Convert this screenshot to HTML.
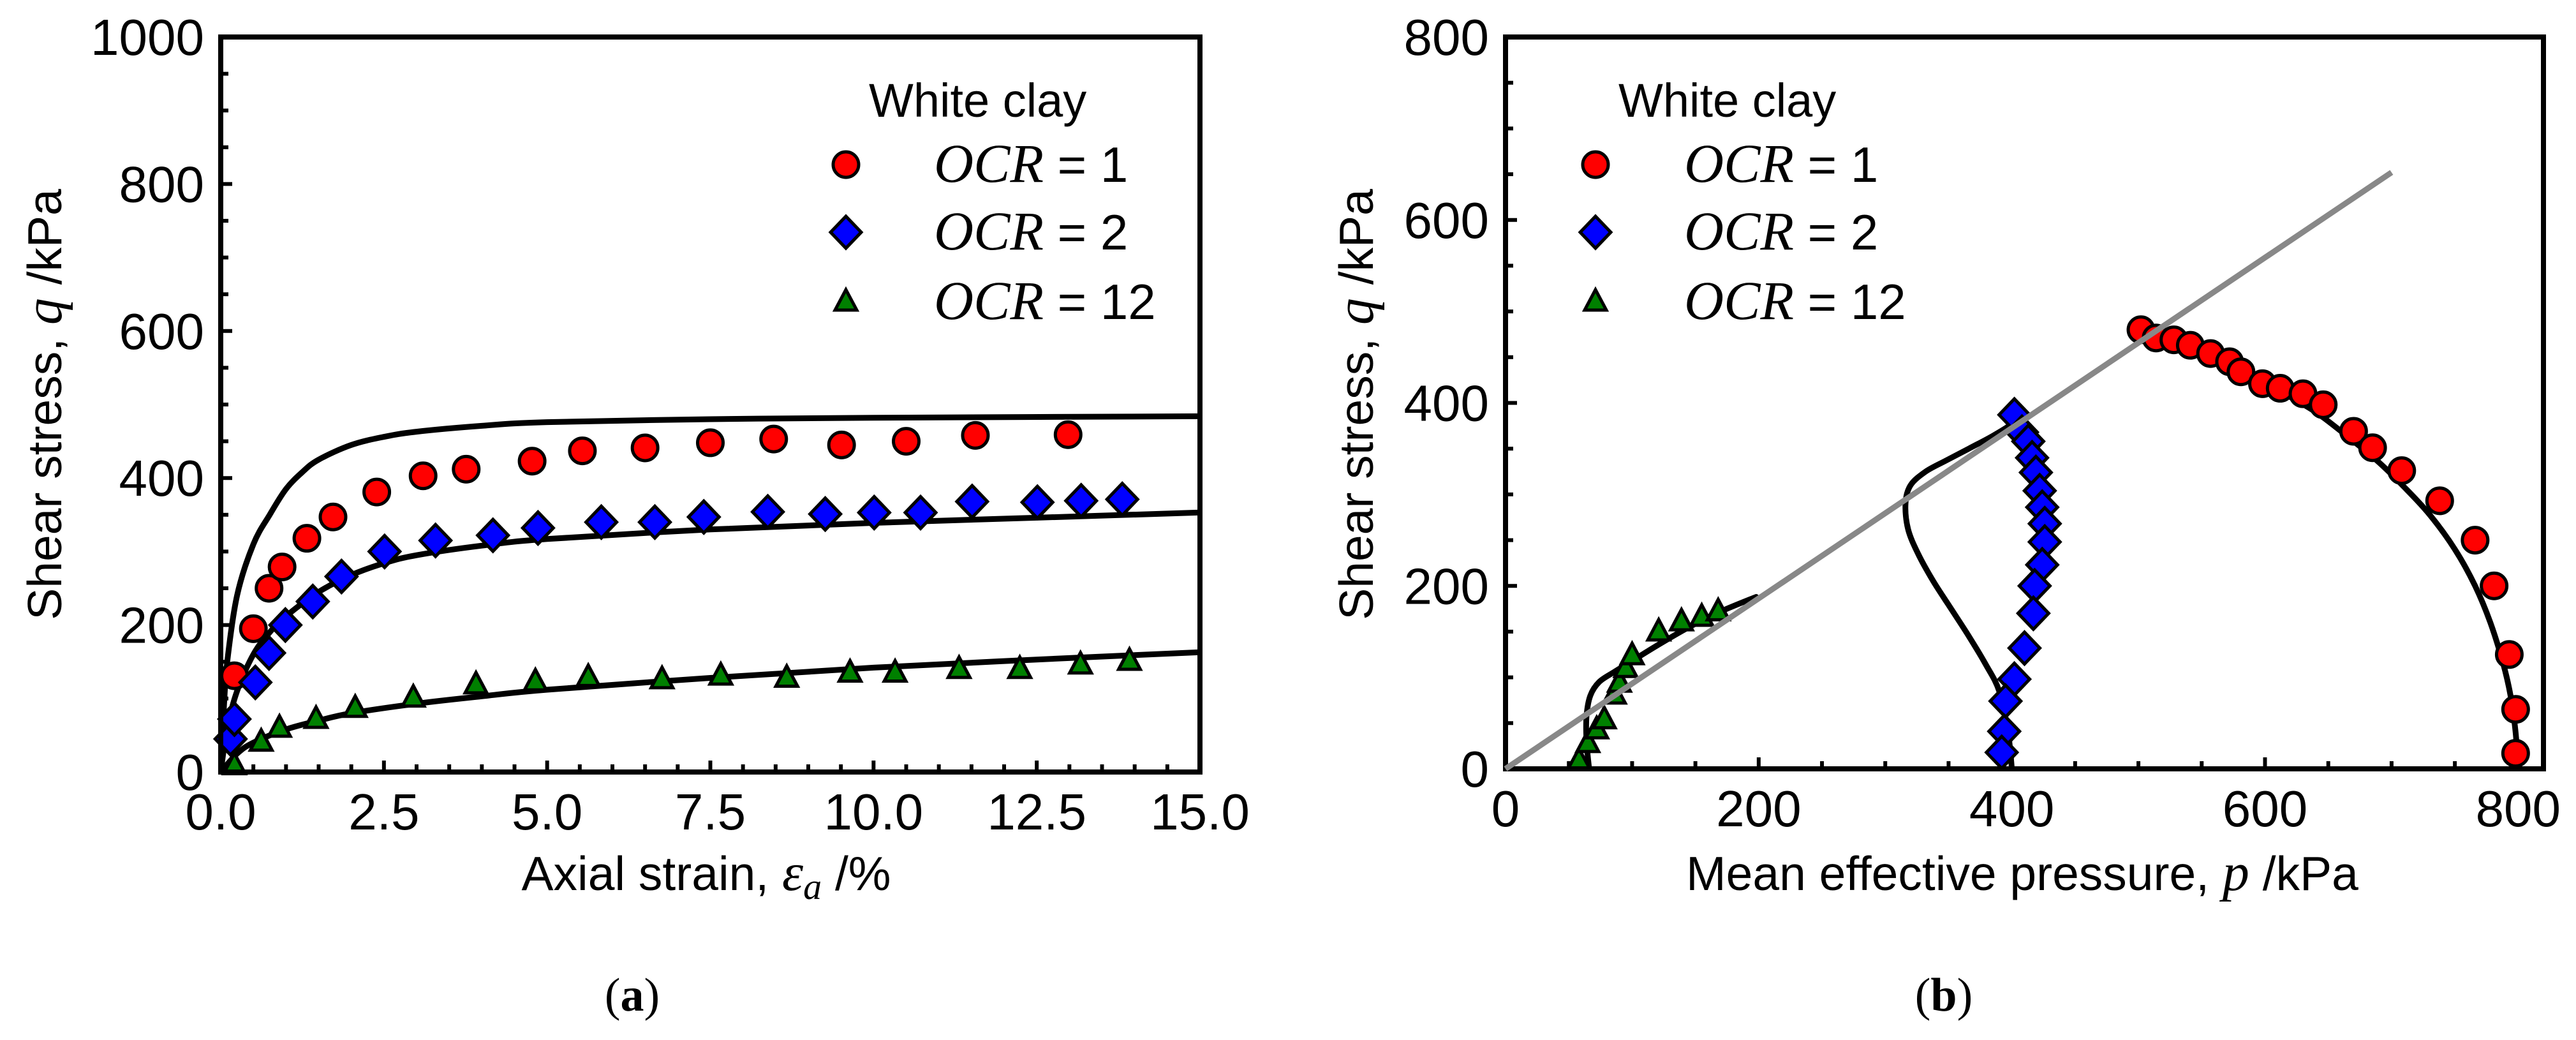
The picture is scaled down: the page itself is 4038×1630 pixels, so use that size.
<!DOCTYPE html>
<html><head><meta charset="utf-8"><style>
html,body{margin:0;padding:0;background:#fff;}
svg{display:block;}
text{fill:#000;}
</style></head><body>
<svg id="fig" width="4038" height="1630" xmlns="http://www.w3.org/2000/svg" font-family="Liberation Sans, sans-serif"></svg>
<script>
// ---- Panel (a) data ----
const a_ocr1_eps=[0.21,0.5,0.74,0.94,1.32,1.72,2.39,3.1,3.76,4.77,5.54,6.5,7.5,8.47,9.51,10.5,11.56,12.98];
const a_ocr1_q=[131,195,250,279,318,347,381,403,412,423,437,441,448,453,445,450,458,459];
const a_ocr2_eps=[0.15,0.21,0.53,0.74,0.99,1.41,1.85,2.51,3.29,4.17,4.86,5.83,6.65,7.4,8.38,9.26,10.01,10.72,11.51,12.51,13.18,13.81];
const a_ocr2_q=[45,72,122,162,200,232,266,300,315,322,332,340,340,347,354,351,353,353,368,367,369,371];
const a_ocr12_eps=[0.21,0.62,0.9,1.46,2.06,2.95,3.91,4.82,5.63,6.76,7.66,8.67,9.64,10.33,11.31,12.24,13.17,13.92];
const a_ocr12_q=[9,41,60,72,87,101,119,123,129,126,131,128,135,135,140,140,146,151];
const a_fit1_eps=[0,0.05,0.1,0.25,0.5,0.75,1,1.25,1.5,2,2.5,3,4,5,7.5,10,15];
const a_fit1_q=[0,90,150,240,310,350,385,408,425,445,456,463,471,476,480,482,484];
const a_fit2_eps=[0,0.1,0.25,0.5,0.75,1,1.5,2,2.5,3,4,5,7.5,10,12.5,15];
const a_fit2_q=[0,60,110,160,190,212,245,268,284,295,308,317,330,339,346,353];
const a_fit12_eps=[0,0.25,0.5,1,1.5,2,3,4,5,7.5,10,12.5,15];
const a_fit12_q=[0,25,40,58,70,80,93,103,112,128,142,153,163];
const a_xticks=["0.0","2.5","5.0","7.5","10.0","12.5","15.0"];
const a_yticks=["0","200","400","600","800","1000"];
// ---- Panel (b) data ----
const b_ocr1_p=[502,514,528,541,557,572,581,598,612,630,646,670,685,708,738,766,781,793,798,798];
const b_ocr1_q=[480,471,469,463,454,445,434,421,416,410,398,369,351,326,293,250,200,125,65,17];
const b_ocr2_p=[402,408,413,416,419,422,424,426,426,424,418,417,410,402,395,394,392];
const b_ocr2_q=[387,368,358,340,324,304,286,268,248,223,200,170,132,98,74,41,18];
const b_ocr12_p=[58,65,72,78,86,90,95,100,121,139,155,168];
const b_ocr12_q=[9,28,43,54,81,94,110,124,150,161,166,172];
const b_fit1_p=[800,798,794,788,778,766,750,730,710,690,670,640,610,580,550,520,505];
const b_fit1_q=[0,40,80,116,160,200,240,278,308,335,358,390,414,435,456,474,480];
const b_fit2_p=[400,397,390,379,366,352,338,326,318,316,320,332,348,366,385,400,407];
const b_fit2_q=[0,40,85,115,145,175,205,235,262,290,310,325,337,350,364,377,387];
const b_fit12_p=[66,64,64,67,74,86,100,120,145,170,198];
const b_fit12_q=[0,30,58,80,95,106,118,135,155,172,188];
const b_csl_p=[0,700];
const b_csl_q=[0,652];
const b_xticks=["0","200","400","600","800"];
const b_yticks=["0","200","400","600","800"];

const NS="http://www.w3.org/2000/svg";
const svg=document.getElementById('fig');
function mk(tag,attrs,parent){const e=document.createElementNS(NS,tag);for(const k in attrs)e.setAttribute(k,attrs[k]);(parent||svg).appendChild(e);return e;}
function smooth(pts){let d='M'+pts[0][0].toFixed(1)+','+pts[0][1].toFixed(1);
  for(let i=0;i<pts.length-1;i++){const p0=pts[Math.max(0,i-1)],p1=pts[i],p2=pts[i+1],p3=pts[Math.min(pts.length-1,i+2)];
    const c1=[p1[0]+(p2[0]-p0[0])/6,p1[1]+(p2[1]-p0[1])/6],c2=[p2[0]-(p3[0]-p1[0])/6,p2[1]-(p3[1]-p1[1])/6];
    d+=' C'+c1.map(v=>v.toFixed(1)).join(',')+' '+c2.map(v=>v.toFixed(1)).join(',')+' '+p2.map(v=>v.toFixed(1)).join(',');}
  return d;}

function panel(o){
  const g=mk('g',{});
  
  
  const X=v=>o.x0+(v-o.xmin)/(o.xmax-o.xmin)*(o.x1-o.x0);
  const Y=v=>o.y0-(v-o.ymin)/(o.ymax-o.ymin)*(o.y0-o.y1);
  const cid='clip'+o.id;
  const cp=mk('clipPath',{id:cid},g);mk('rect',{x:o.x0,y:o.y1,width:o.x1-o.x0,height:o.y0-o.y1},cp);
  for(let v=o.xmin;v<=o.xmax+1e-9;v+=o.xminor){const x=X(v);const isMaj=Math.abs(((v-o.xmin)/o.xmajor)-Math.round((v-o.xmin)/o.xmajor))<1e-6;const L=isMaj?18:12;
    mk('line',{x1:x,y1:o.y0,x2:x,y2:o.y0-L,stroke:'#000','stroke-width':6},g);}
  for(let v=o.ymin;v<=o.ymax+1e-9;v+=o.yminor){const y=Y(v);const isMaj=Math.abs(((v-o.ymin)/o.ymajor)-Math.round((v-o.ymin)/o.ymajor))<1e-6;const L=isMaj?18:12;
    mk('line',{x1:o.x0,y1:y,x2:o.x0+L,y2:y,stroke:'#000','stroke-width':6},g);}
  o.xt.forEach(t=>{const tx=mk('text',{x:X(parseFloat(t)),y:o.y0+90,'font-size':80,'text-anchor':'middle'},g);tx.textContent=t;
    
    });
  o.yt.forEach(t=>{const tx=mk('text',{x:o.x0-26,y:Y(parseFloat(t))+28,'font-size':80,'text-anchor':'end'},g);tx.textContent=t;
    
    });
  const body=mk('g',{'clip-path':'url(#'+cid+')'},g);
  o.lines.forEach(l=>{const pts=l.xs.map((v,i)=>[X(v),Y(l.ys[i])]);
    const pl=mk('path',{d:smooth(pts),fill:'none',stroke:l.c,'stroke-width':l.w,'stroke-linejoin':'round','stroke-linecap':'round'},body);
    
    });
  o.series.forEach(s=>{s.xs.forEach((v,i)=>{const m=marker(s.shape,X(v),Y(s.ys[i]),g);
    
    });});
  const fr=mk('rect',{x:o.x0,y:o.y1,width:o.x1-o.x0,height:o.y0-o.y1,fill:'none',stroke:'#000','stroke-width':8},g);
  
  
  return g;
}
function marker(shape,x,y,p){
  if(shape==='c')return mk('circle',{cx:x,cy:y,r:20,fill:'#ff0000',stroke:'#000','stroke-width':5},p);
  if(shape==='d')return mk('polygon',{points:`${x},${y-25} ${x+24},${y} ${x},${y+25} ${x-24},${y}`,fill:'#0000ff',stroke:'#000','stroke-width':5},p);
  return mk('polygon',{points:`${x},${y-19} ${x+17},${y+13} ${x-17},${y+13}`,fill:'#008000',stroke:'#000','stroke-width':5},p);
}

panel({id:'a',name:'panel-a-chart',x0:346,x1:1881,y0:1210,y1:58,xmin:0,xmax:15,ymin:0,ymax:1000,xminor:0.5,xmajor:2.5,yminor:50,ymajor:200,
  xt:a_xticks,yt:a_yticks,
  lines:[{xs:a_fit1_eps,ys:a_fit1_q,c:'#000',w:9,name:'fit-ocr1'},{xs:a_fit2_eps,ys:a_fit2_q,c:'#000',w:9,name:'fit-ocr2'},{xs:a_fit12_eps,ys:a_fit12_q,c:'#000',w:9,name:'fit-ocr12'}],
  series:[{shape:'c',xs:a_ocr1_eps,ys:a_ocr1_q,name:'ocr1'},{shape:'d',xs:a_ocr2_eps,ys:a_ocr2_q,name:'ocr2'},{shape:'t',xs:a_ocr12_eps,ys:a_ocr12_q,name:'ocr12'}]});
panel({id:'b',name:'panel-b-chart',x0:2360,x1:3987,y0:1205,y1:58,xmin:0,xmax:820,ymin:0,ymax:800,xminor:50,xmajor:200,yminor:50,ymajor:200,
  xt:b_xticks,yt:b_yticks,
  lines:[{xs:b_fit1_p,ys:b_fit1_q,c:'#000',w:9,name:'fit-ocr1'},{xs:b_fit2_p,ys:b_fit2_q,c:'#000',w:9,name:'fit-ocr2'},{xs:b_fit12_p,ys:b_fit12_q,c:'#000',w:9,name:'fit-ocr12'}],
  series:[{shape:'t',xs:b_ocr12_p,ys:b_ocr12_q,name:'ocr12'},{shape:'d',xs:b_ocr2_p,ys:b_ocr2_q,name:'ocr2'},{shape:'c',xs:b_ocr1_p,ys:b_ocr1_q,name:'ocr1'}]});
(function(){const X=v=>2360+v/820*1627,Y=v=>1205-v/800*1147;
  const l=mk('line',{x1:X(b_csl_p[0]),y1:Y(b_csl_q[0]),x2:X(b_csl_p[1]),y2:Y(b_csl_q[1]),stroke:'#888','stroke-width':9});
  
  })();

function legend(lx,tx,name){
  const g=mk('g',{});
  
  
  const t=mk('text',{x:lx+36,y:183,'font-size':74},g);t.textContent='White clay';
  const rows=[['c','1',258],['d','2',364],['t','12',473]];
  rows.forEach(r=>{marker(r[0],lx,r[2],g);
    const e=mk('text',{x:tx,y:r[2]+27,'font-size':78},g);
    const s=mk('tspan',{style:'font-family:"Liberation Serif",serif;font-style:italic','font-size':86},e);s.textContent='OCR';
    const s2=mk('tspan',{},e);s2.textContent=' = '+r[1];});
}
legend(1326,1464,'legend-a');
legend(2501,2640,'legend-b');

function txt(x,y,html,attrs,name){const t=mk('text',Object.assign({x:x,y:y,'font-size':75,'text-anchor':'middle'},attrs||{}));t.innerHTML=html;
  
  return t;}
const ital='style="font-family:\'Liberation Serif\',serif;font-style:italic"';
txt(1107,1395,'Axial strain, <tspan '+ital+' font-size="84">ε</tspan><tspan '+ital+' font-size="58" dy="14">a</tspan><tspan dy="-14"> /%</tspan>',{},'x-axis-title-a');
txt(0,0,'Shear stress, <tspan '+ital+' font-size="84">q</tspan> /kPa',{transform:'translate(96,634) rotate(-90)'},'y-axis-title-a');
txt(3170,1395,'Mean effective pressure, <tspan '+ital+' font-size="84">p</tspan> /kPa',{},'x-axis-title-b');
txt(0,0,'Shear stress, <tspan '+ital+' font-size="84">q</tspan> /kPa',{transform:'translate(2152,634) rotate(-90)'},'y-axis-title-b');
txt(991,1584,'(<tspan font-weight="bold">a</tspan>)',{style:'font-family:"Liberation Serif",serif','font-size':74},'caption-a');
txt(3047,1584,'(<tspan font-weight="bold">b</tspan>)',{style:'font-family:"Liberation Serif",serif','font-size':74},'caption-b');
</script>
</body></html>
